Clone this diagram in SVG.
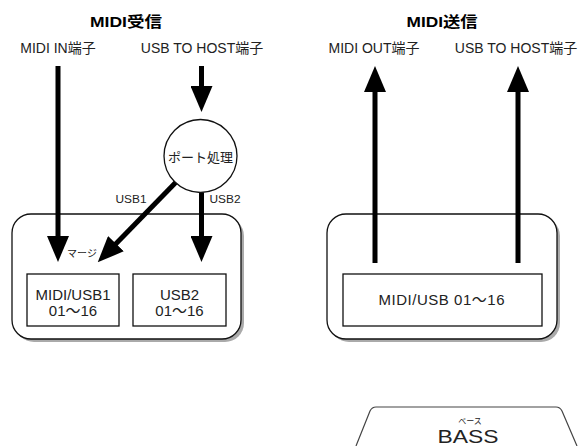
<svg xmlns="http://www.w3.org/2000/svg" width="579" height="446" viewBox="0 0 579 446">
<style>
text{font-family:"Liberation Sans","Noto Sans CJK JP",sans-serif;fill:#222;text-anchor:middle}
.title{font-size:15px;font-weight:bold;fill:#000}
.lbl{font-size:14px}
.small{font-size:10px}
.box{font-size:15px}
.conn{stroke:#000;stroke-width:5;fill:none}
.outer{fill:#fff;stroke:#111;stroke-width:1.3}
.shadow{fill:#aaa}
.inner{fill:#fff;stroke:#111;stroke-width:1.3}
</style>
<defs>
<marker id="ah" viewBox="0 -11 26 22" refX="1" refY="0" markerWidth="26" markerHeight="22" markerUnits="userSpaceOnUse" orient="auto">
<path d="M0,-11 L26,0 L0,11 Z" fill="#000"/>
</marker>
</defs>
<rect width="579" height="446" fill="#fff"/>

<g id="titles">
<text class="title" x="126" y="27" textLength="72" lengthAdjust="spacingAndGlyphs">MIDI受信</text>
<text class="title" x="442" y="27" textLength="71" lengthAdjust="spacingAndGlyphs">MIDI送信</text>
</g>
<g id="ports">
<text class="lbl" x="58" y="53">MIDI IN端子</text>
<text class="lbl" x="202" y="53">USB TO HOST端子</text>
<text class="lbl" x="374" y="53">MIDI OUT端子</text>
<text class="lbl" x="516" y="53">USB TO HOST端子</text>
</g>

<g id="receive-block">
<rect class="shadow" x="15" y="217" width="229" height="125" rx="19"/>
<rect class="outer" x="12" y="214" width="229" height="125" rx="19"/>
</g>
<g id="send-block">
<rect class="shadow" x="330" y="217" width="230" height="125" rx="19"/>
<rect class="outer" x="327" y="214" width="230" height="125" rx="19"/>
</g>

<g id="connectors">
<line class="conn" x1="58" y1="66" x2="58" y2="237" marker-end="url(#ah)"/>
<line class="conn" x1="201.5" y1="66" x2="201.5" y2="87" marker-end="url(#ah)"/>
<line class="conn" x1="201.5" y1="185" x2="201.5" y2="237" marker-end="url(#ah)"/>
<line class="conn" x1="182" y1="176" x2="115.2" y2="244.4" marker-end="url(#ah)"/>
<line class="conn" x1="375" y1="263" x2="375" y2="91" marker-end="url(#ah)"/>
<line class="conn" x1="518" y1="263" x2="518" y2="91" marker-end="url(#ah)"/>
</g>

<g id="port-proc">
<circle cx="200.5" cy="156" r="36.5" fill="#fff" stroke="#111" stroke-width="1.3"/>
<text x="200.5" y="162" style="font-size:13px">ポート処理</text>
</g>
<g id="edge-labels">
<text class="small" x="131" y="203" textLength="31" lengthAdjust="spacingAndGlyphs">USB1</text>
<text class="small" x="225" y="203" textLength="31" lengthAdjust="spacingAndGlyphs">USB2</text>
<text class="small" x="82" y="257">マージ</text>
</g>

<g id="midi-usb1">
<rect class="inner" x="27" y="274" width="92" height="52"/>
<text class="box" x="73" y="300">MIDI/USB1</text>
<text class="box" x="73" y="316">01～16</text>
</g>
<g id="usb2">
<rect class="inner" x="133" y="274" width="93" height="52"/>
<text class="box" x="179.5" y="300">USB2</text>
<text class="box" x="179.5" y="316">01～16</text>
</g>
<g id="midi-usb-out">
<rect class="inner" x="343" y="274" width="199" height="52"/>
<text class="box" x="441.5" y="305" textLength="126">MIDI/USB 01～16</text>
</g>

<g id="bass">
<path d="M356,446 L370,411 Q372,407 376,407 L556,407 Q560,407 562,411 L577,446" fill="#fff" stroke="#444" stroke-width="1.2"/>
<text x="470" y="424" style="font-size:8px">ベース</text>
<text x="468" y="443" style="font-size:19px" textLength="61" lengthAdjust="spacingAndGlyphs">BASS</text>
</g>
</svg>
